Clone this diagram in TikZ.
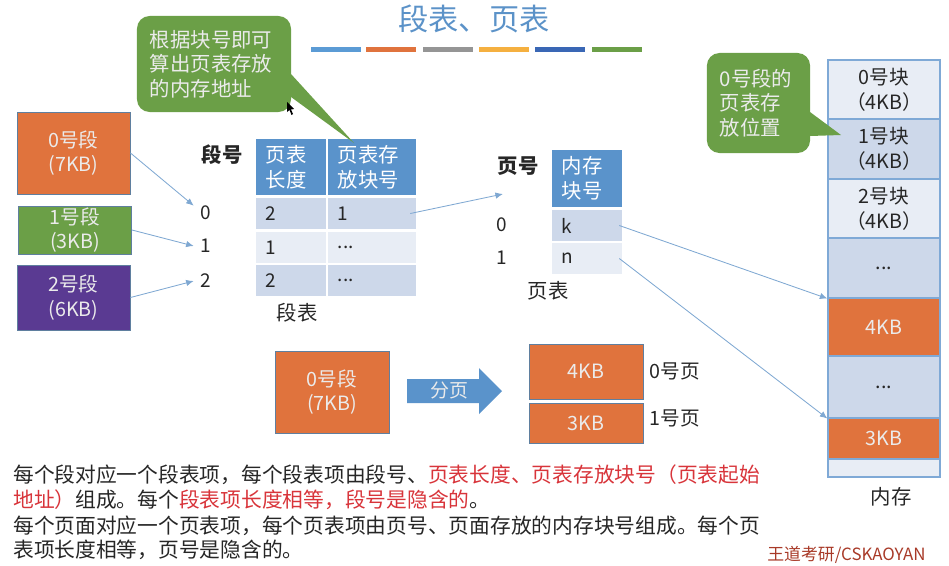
\documentclass[tikz,border=0pt]{standalone}
\usepackage{fontspec}
\setmainfont{Noto Sans CJK SC}
\usetikzlibrary{arrows.meta, calc}
\definecolor{titleblue}{HTML}{5B92C8}
\definecolor{headfill}{HTML}{5A93CB}
\definecolor{rowdark}{HTML}{CDD8EA}
\definecolor{rowlight}{HTML}{E8EDF5}
\definecolor{segorange}{HTML}{E0733D}
\definecolor{seggreen}{HTML}{6B9F47}
\definecolor{segpurple}{HTML}{5A3A92}
\definecolor{boxborder}{HTML}{5F7F9F}
\definecolor{linkblue}{HTML}{7FA8D2}
\definecolor{memborder}{HTML}{7FA9D6}
\definecolor{redtext}{HTML}{D8343A}
\definecolor{darktext}{HTML}{262626}
\definecolor{signred}{HTML}{A83A28}
\definecolor{barblue}{HTML}{5B9BD5}
\definecolor{bargray}{HTML}{959595}
\definecolor{baryellow}{HTML}{F5B040}
\definecolor{barnavy}{HTML}{3A67B5}
\tikzset{
  blockbox/.style={rectangle, draw=boxborder, line width=0.5pt, text=white!92!black,
                   inner sep=0pt, align=center, font=\fontsize{14}{17.5}\selectfont},
  colorbar/.style={rectangle, inner sep=0pt, minimum width=1.25cm, minimum height=0.125cm},
  headcell/.style={rectangle, fill=headfill, text=white, inner sep=0pt, align=left,
                   minimum height=1.4cm, font=\fontsize{14.5}{17.5}\selectfont},
  rowcell/.style={rectangle, inner sep=0pt, minimum height=0.78cm, text=darktext,
                  align=left, font=\fontsize{13.5}{16}\selectfont},
  numlabel/.style={rectangle, inner sep=0pt, minimum width=0.6cm, minimum height=0.3cm,
                   text=darktext, font=\fontsize{13.5}{16}\selectfont},
  tablelabel/.style={text=darktext, inner sep=0pt, font=\fontsize{14.5}{17}\selectfont},
  memcell/.style={rectangle, draw=memborder, line width=0.8pt, minimum width=2.8cm, inner sep=0pt,
                  align=center, text=darktext, font=\fontsize{14}{17.5}\selectfont},
  notefill/.style={fill=seggreen, draw=none},
  notebox/.style={notefill, rectangle, rounded corners=9pt, inner sep=0pt, text=white!92!black,
                  align=left, font=\fontsize{14.5}{17.5}\selectfont},
  bodytext/.style={anchor=west, inner sep=0pt, text=darktext, font=\fontsize{14.75}{17}\selectfont},
  link/.style={-{Latex[length=1.9mm,width=1.6mm]}, line width=0.6pt, draw=linkblue},
}
\def\rowdots{...}

\begin{document}
\begin{tikzpicture}[x=0.025cm, y=-0.025cm]
\useasboundingbox (0,0) rectangle (949,566);

% Title and the row of coloured bars
\node[text=titleblue, inner sep=0pt, font=\fontsize{21.5}{24}\selectfont] (title) at (474,19) {段表、页表};
\foreach \n/\x/\c in {b1/336/barblue, b2/391/segorange, b3/448/bargray, b4/504/baryellow, b5/560/barnavy, b6/617/seggreen} {
  \node[colorbar, fill=\c] (\n) at (\x,49.5) {};
}

% Segments
\node[blockbox, fill=segorange, minimum width=2.83cm, minimum height=2.05cm] (seg0) at (73.5,153) {0号段\\(7KB)};
\node[blockbox, fill=seggreen, minimum width=2.83cm, minimum height=1.2cm] (seg1) at (75,230) {1号段\\(3KB)};
\node[blockbox, fill=segpurple, minimum width=2.83cm, minimum height=1.62cm] (seg2) at (73.5,297.5) {2号段\\(6KB)};

% Segment numbers
\node[tablelabel, font=\fontsize{14.5}{17}\selectfont\bfseries] (segno) at (222,155) {段号};
\node[numlabel] (snum0) at (206,213) {0};
\node[numlabel] (snum1) at (206,246) {1};
\node[numlabel] (snum2) at (206,281) {2};

% Segment table
\node[headcell, minimum width=1.75cm, text width=1.25cm] (shead1) at (291,167) {页表\\长度};
\node[headcell, minimum width=2.2cm, text width=1.7cm] (shead2) at (372,167) {页表存\\放块号};
\foreach \r/\y/\c/\a/\b in {1/213.5/rowdark/2/1, 2/247.5/rowlight/1/\rowdots, 3/280.5/rowdark/2/\rowdots} {
  \node[rowcell, fill=\c, minimum width=1.75cm, text width=1.25cm] (sa\r) at (291,\y) {\a};
  \node[rowcell, fill=\c, minimum width=2.2cm, text width=1.7cm] (sb\r) at (372,\y) {\b};
}
\node[tablelabel] (segtab) at (297,313) {段表};

% Page table
\node[tablelabel, font=\fontsize{14.5}{17}\selectfont\bfseries] (pageno) at (518,166) {页号};
\node[numlabel] (pnum0) at (502,225) {0};
\node[numlabel] (pnum1) at (502,258) {1};
\node[headcell, minimum width=1.75cm, text width=1.25cm] (phead) at (587,178.5) {内存\\块号};
\node[rowcell, fill=rowdark, minimum width=1.75cm, text width=1.25cm] (pk) at (587,225.5) {k};
\node[rowcell, fill=rowlight, minimum width=1.75cm, text width=1.25cm] (pn) at (587,258.5) {n};
\node[tablelabel] (pagetab) at (548,291) {页表};
\coordinate (pagein) at (503,194);

% Memory column
\node[memcell, fill=rowlight, minimum height=1.475cm] (m0) at (884,89.5) {0号块\\（4KB）};
\node[memcell, fill=rowdark, minimum height=1.475cm] (m1) at (884,149) {1号块\\（4KB）};
\node[memcell, fill=rowlight, minimum height=1.475cm] (m2) at (884,208.5) {2号块\\（4KB）};
\node[memcell, fill=rowdark, minimum height=1.5cm] (m3) at (884,268) {...};
\node[memcell, fill=segorange, text=white!92!black, minimum height=1.425cm] (m4) at (884,327) {4KB};
\node[memcell, fill=rowdark, minimum height=1.55cm] (m5) at (884,387) {...};
\node[memcell, fill=segorange, text=white!92!black, minimum height=1.0cm] (m6) at (884,438.5) {3KB};
\node[memcell, fill=rowlight, minimum height=0.45cm] (m7) at (884,468) {};
\node[tablelabel] (memlabel) at (891,497) {内存};

% Callouts
\node[notebox, minimum width=3.85cm, minimum height=2.4cm, text width=3.2cm] (note1) at (214,64) {根据块号即可\\算出页表存放\\的内存地址};
\fill[notefill] (291,74) -- (354,143) -- (291,97) -- cycle;
\node[notebox, minimum width=2.58cm, minimum height=2.5cm, text width=1.93cm] (note2) at (758.5,103) {0号段的\\页表存\\放位置};
\fill[notefill] (810,112) -- (841,135) -- (810,136) -- cycle;

% Mouse pointer
\fill[black] (287,102) -- (287,112) -- (289.5,110) -- (291.5,115) -- (293,114) -- (291,109.5) -- (294,109) -- cycle;

% Paging example
\node[blockbox, fill=segorange, minimum width=2.85cm, minimum height=2.05cm] (seg0b) at (332,392) {0号段\\(7KB)};
\fill[headfill] (407,379) -- (479,379) -- (479,368) -- (502,391) -- (479,414) -- (479,403) -- (407,403) -- cycle;
\node[text=white!92!black, inner sep=0pt, font=\fontsize{13.5}{16}\selectfont] (pagelabel) at (449,390) {分页};
\node[blockbox, fill=segorange, minimum width=2.85cm, minimum height=1.375cm] (page0) at (586,371.5) {4KB};
\node[blockbox, fill=segorange, minimum width=2.85cm, minimum height=1cm] (page1) at (586,423) {3KB};
\node[tablelabel, font=\fontsize{14}{17}\selectfont] (page0l) at (675,371) {0号页};
\node[tablelabel, font=\fontsize{14}{17}\selectfont] (page1l) at (675,418) {1号页};

% Explanation
\node[bodytext] (line1) at (13,475) {每个段对应一个段表项，每个段表项由段号、\textcolor{redtext}{页表长度、页表存放块号（页表起始}};
\node[bodytext] (line2) at (13,500) {\textcolor{redtext}{地址）}组成。每个\textcolor{redtext}{段表项长度相等，段号是隐含的}。};
\node[bodytext] (line3) at (13,526) {每个页面对应一个页表项，每个页表项由页号、页面存放的内存块号组成。每个页};
\node[bodytext] (line4) at (13,550) {表项长度相等，页号是隐含的。};
\node[bodytext, text=signred, font=\fontsize{12}{14}\selectfont] (sign) at (767,555) {王道考研/CSKAOYAN};

% Links
\draw[link] (seg0.east) -- (snum0.north west);
\draw[link] (seg1.east) -- (snum1.west);
\draw[link] (seg2.east) -- (snum2.west);
\draw[link] (sb1.east) ++(-6,0) coordinate (sstart) (sstart) -- (pagein);
\draw[link] (pk.east) ++(-3,0) coordinate (kstart) (kstart) -- (m3.south west);
\draw[link] (pn.east) ++(-3,0) coordinate (nstart) (nstart) -- (m5.south west);

\end{tikzpicture}
\end{document}
